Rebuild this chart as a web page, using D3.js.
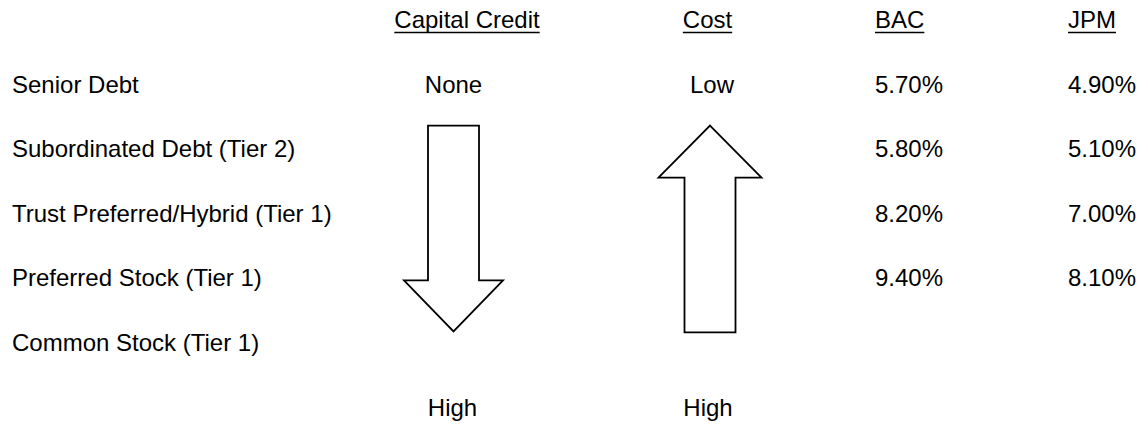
<!DOCTYPE html>
<html>
<head>
<meta charset="utf-8">
<script src="https://cdn.jsdelivr.net/npm/d3@7"></script>
<style>
  body { margin: 0; background: #fff; }
  text { font-family: "Liberation Sans", Arial, sans-serif; font-size: 24px; fill: #000; }
</style>
</head>
<body>
<div id="chart"></div>
<script>
// table data
const instruments = ["Senior Debt", "Subordinated Debt (Tier 2)", "Trust Preferred/Hybrid (Tier 1)", "Preferred Stock (Tier 1)", "Common Stock (Tier 1)"];
const headers = ["Capital Credit", "Cost", "BAC", "JPM"];
const bac = [5.7, 5.8, 8.2, 9.4, null];
const jpm = [4.9, 5.1, 7.0, 8.1, null];
const creditEnds = ["None", "High"];
const costEnds = ["Low", "High"];

const width = 1138;
const height = 425;

const svg = d3.select("#chart")
              .append("svg")
              .attr("width", width)
              .attr("height", height);

// rows: header, 5 instruments, bottom "High" row
const rowKeys = ["header"].concat(instruments).concat(["bottom"]);
const y = d3.scalePoint()
            .domain(rowKeys)
            .range([28, 415.5]);

const fmt = d => d3.format(".2f")(d) + "%";

// column positions
const colX = d3.scaleOrdinal()
               .domain(headers)
               .range([467, 707.5, 875, 1068]);
const colAnchor = {"Capital Credit": "middle", "Cost": "middle", "BAC": "start", "JPM": "start"};
const arrowX = {credit: 453.5, cost: 710};

// headers with underline
headers.forEach(h => {
  const t = svg.append("text")
               .attr("x", colX(h))
               .attr("y", y("header"))
               .attr("text-anchor", colAnchor[h])
               .text(h);
  const w = t.node().getComputedTextLength();
  const x0 = colAnchor[h] === "middle" ? colX(h) - w / 2 : colX(h);
  svg.append("line")
     .attr("x1", x0).attr("x2", x0 + w)
     .attr("y1", y("header") + 4.5).attr("y2", y("header") + 4.5)
     .attr("stroke", "#000")
     .attr("stroke-width", 1.6);
});

// row labels
svg.selectAll("text.label")
   .data(instruments)
   .enter().append("text")
   .attr("class", "label")
   .attr("x", 12)
   .attr("y", d => y(d))
   .text(d => d);

// yields
[[bac, "BAC"], [jpm, "JPM"]].forEach(([vals, key]) => {
  svg.selectAll("text.v" + key)
     .data(vals.map((v, i) => ({v: v, row: instruments[i]})).filter(d => d.v != null))
     .enter().append("text")
     .attr("class", "v" + key)
     .attr("x", colX(key))
     .attr("y", d => y(d.row))
     .text(d => fmt(d.v));
});

// end labels
svg.append("text").attr("x", arrowX.credit).attr("y", y(instruments[0])).attr("text-anchor", "middle").text(creditEnds[0]);
svg.append("text").attr("x", arrowX.credit - 1).attr("y", y("bottom")).attr("text-anchor", "middle").text(creditEnds[1]);
svg.append("text").attr("x", arrowX.cost + 2).attr("y", y(instruments[0])).attr("text-anchor", "middle").text(costEnds[0]);
svg.append("text").attr("x", arrowX.cost - 2).attr("y", y("bottom")).attr("text-anchor", "middle").text(costEnds[1]);

// block arrows
const arrowTop = y(instruments[0]) + 33;
const arrowBottom = y(instruments[4]) - 19.5;
const shaftW = 51, headW = 99;

function arrowPath(cx, y0, y1, headLen, dir) {
  const s = shaftW / 2, h = headW / 2;
  if (dir === "down") {
    const hb = y1 - headLen;
    return d3.line()([[cx - s, y0], [cx + s, y0], [cx + s, hb], [cx + h, hb], [cx, y1], [cx - h, hb], [cx - s, hb]]) + "Z";
  }
  const hb = y0 + headLen;
  return d3.line()([[cx, y0], [cx + h + 2, hb], [cx + s, hb], [cx + s, y1], [cx - s, y1], [cx - s, hb], [cx - h - 2, hb]]) + "Z";
}

svg.append("path")
   .attr("d", arrowPath(arrowX.credit, arrowTop, arrowBottom, 51, "down"))
   .attr("fill", "#fff").attr("stroke", "#000").attr("stroke-width", 1.8);

svg.append("path")
   .attr("d", arrowPath(arrowX.cost, arrowTop, arrowBottom + 1, 52, "up"))
   .attr("fill", "#fff").attr("stroke", "#000").attr("stroke-width", 1.8);
</script>
</body>
</html>
